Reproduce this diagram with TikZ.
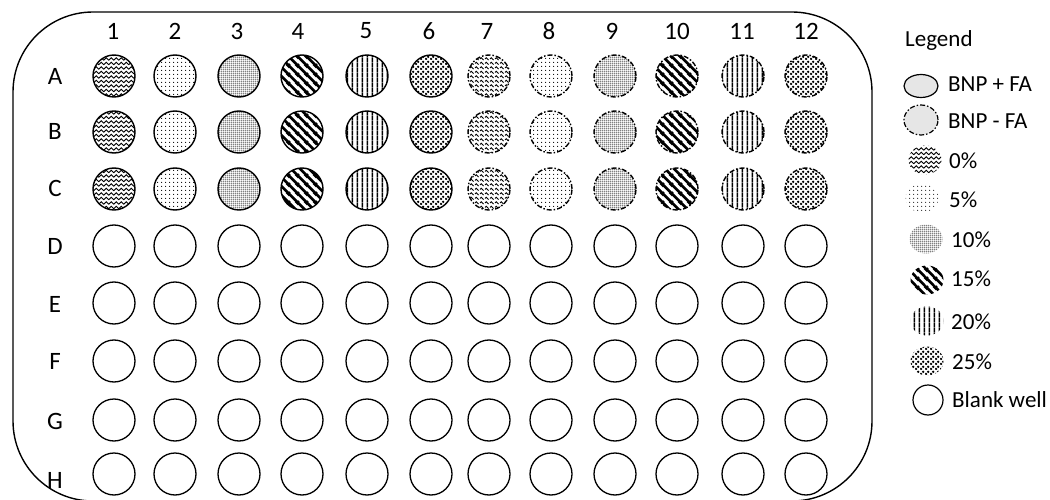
\documentclass[tikz,border=0pt]{standalone}
\usepackage{fontspec}
\setmainfont{Carlito}
\usetikzlibrary{patterns,shapes.geometric}

\pgfdeclarepatternformonly{wavy}{\pgfqpoint{-0.5pt}{-2.25pt}}{\pgfqpoint{5.5pt}{2.25pt}}{\pgfqpoint{5pt}{4.5pt}}{%
  \pgfsetlinewidth{0.8pt}%
  \pgfpathmoveto{\pgfqpoint{0pt}{0pt}}%
  \pgfpathsine{\pgfqpoint{1.25pt}{1.2pt}}%
  \pgfpathcosine{\pgfqpoint{1.25pt}{-1.2pt}}%
  \pgfpathsine{\pgfqpoint{1.25pt}{-1.2pt}}%
  \pgfpathcosine{\pgfqpoint{1.25pt}{1.2pt}}%
  \pgfusepath{stroke}}
\pgfdeclarepatternformonly{sparsedots}{\pgfqpoint{0pt}{0pt}}{\pgfqpoint{4pt}{4pt}}{\pgfqpoint{4pt}{4pt}}{%
  \pgfpathcircle{\pgfqpoint{2pt}{2pt}}{0.65pt}\pgfusepath{fill}}
\pgfdeclarepatternformonly{densedots}{\pgfqpoint{0pt}{0pt}}{\pgfqpoint{2.2pt}{2.2pt}}{\pgfqpoint{2.2pt}{2.2pt}}{%
  \pgfpathcircle{\pgfqpoint{1.1pt}{1.1pt}}{0.78pt}\pgfusepath{fill}}
\pgfdeclarepatternformonly{thicklines}{\pgfqpoint{0pt}{0pt}}{\pgfqpoint{8.5pt}{8.5pt}}{\pgfqpoint{8.5pt}{8.5pt}}{%
  \pgfsetlinewidth{2.7pt}%
  \pgfpathmoveto{\pgfqpoint{-1pt}{9.5pt}}\pgfpathlineto{\pgfqpoint{9.5pt}{-1pt}}%
  \pgfpathmoveto{\pgfqpoint{-2pt}{2pt}}\pgfpathlineto{\pgfqpoint{2pt}{-2pt}}%
  \pgfpathmoveto{\pgfqpoint{6.5pt}{10.5pt}}\pgfpathlineto{\pgfqpoint{10.5pt}{6.5pt}}%
  \pgfusepath{stroke}}
\pgfdeclarepatternformonly{vlines}{\pgfqpoint{0pt}{0pt}}{\pgfqpoint{4.8pt}{4.8pt}}{\pgfqpoint{4.8pt}{4.8pt}}{%
  \pgfpathrectangle{\pgfqpoint{1.6pt}{0pt}}{\pgfqpoint{1.6pt}{4.8pt}}\pgfusepath{fill}}
\pgfdeclarepatternformonly{bigdots}{\pgfqpoint{0pt}{0pt}}{\pgfqpoint{5pt}{5pt}}{\pgfqpoint{5pt}{5pt}}{%
  \pgfpathcircle{\pgfqpoint{1.25pt}{1.25pt}}{1.5pt}%
  \pgfpathcircle{\pgfqpoint{3.75pt}{3.75pt}}{1.5pt}\pgfusepath{fill}}

\definecolor{legfill}{RGB}{230,230,230}

\tikzset{
  every node/.style={font=\fontsize{23}{27}\selectfont},
  lab/.style={font=\fontsize{25}{29}\selectfont},
  wellp/.style={circle, draw, line width=1.4pt, minimum size=42pt, inner sep=0pt},
  wellm/.style={wellp, dash pattern=on 5pt off 2pt on 1.5pt off 2pt},
  blank/.style={circle, draw, line width=1.3pt, minimum size=42pt, inner sep=0pt},
  legshape/.style={ellipse, inner sep=0pt, minimum width=33pt, minimum height=29pt},
  legtext/.style={anchor=west, inner sep=0pt},
  plate/.style={line width=1.4pt, rounded corners=80pt}
}

\begin{document}
\begin{tikzpicture}[x=1pt,y=-1pt]
\useasboundingbox (0,0) rectangle (1050,500);
\draw[plate] (13,12) rectangle (872,501);

% column numbers
\foreach \x [count=\i] in {113,175,237,298,366,429,487,549,612,677,742,806}
  \node[lab] (c\i) at (\x,31) {\i};

% row labels
\foreach \r/\y in {A/76,B/131,C/188,D/246,E/304,F/361,G/421,H/480}
  \node[lab] (r\r) at (55,\y) {\r};

% patterned wells
\foreach \r/\y in {A/76,B/132,C/189}{
  \foreach \x/\p/\s [count=\i] in {114/wavy/wellp,175/sparsedots/wellp,239/densedots/wellp,302/thicklines/wellp,367/vlines/wellp,431/bigdots/wellp,489/wavy/wellm,551/sparsedots/wellm,615/densedots/wellm,677/thicklines/wellm,743/vlines/wellm,806/bigdots/wellm}
    \node[\s, pattern=\p] (\r\i) at (\x,\y) {};
}

% blank wells
\foreach \r/\y in {D/246,E/303,F/361,G/420,H/474}{
  \foreach \x [count=\i] in {114,175,239,302,367,431,489,551,615,677,743,806}
    \node[blank] (\r\i) at (\x,\y) {};
}

% legend
\node[legtext] (legend) at (905,40) {Legend};
\node[legshape, draw, line width=1.2pt, fill=legfill, minimum height=23pt, minimum width=34pt] (lplus) at (921,86) {};
\node[legtext] (tplus) at (948,84) {BNP + FA};
\node[legshape, draw, line width=1.2pt, fill=legfill, dash pattern=on 5pt off 2pt on 1.5pt off 2pt, minimum height=30pt, minimum width=34pt] (lminus) at (921,120) {};
\node[legtext] (tminus) at (948,121) {BNP - FA};
\node[legshape, pattern=wavy] (l0) at (925,160) {};
\node[legtext] (t0) at (949,161) {0\%};
\node[legshape, pattern=sparsedots] (l5) at (922,198) {};
\node[legtext] (t5) at (949,200) {5\%};
\node[legshape, pattern=densedots] (l10) at (926,239) {};
\node[legtext] (t10) at (951,240) {10\%};
\node[legshape, pattern=thicklines] (l15) at (927,280) {};
\node[legtext] (t15) at (951,279) {15\%};
\node[legshape, pattern=vlines] (l20) at (927,321) {};
\node[legtext] (t20) at (951,322) {20\%};
\node[legshape, pattern=bigdots] (l25) at (927,361) {};
\node[legtext] (t25) at (952,362) {25\%};
\node[circle, draw, line width=1.2pt, minimum size=30pt, inner sep=0pt] (lblank) at (928,400) {};
\node[legtext] (tblank) at (952,400) {Blank well};
\end{tikzpicture}
\end{document}
